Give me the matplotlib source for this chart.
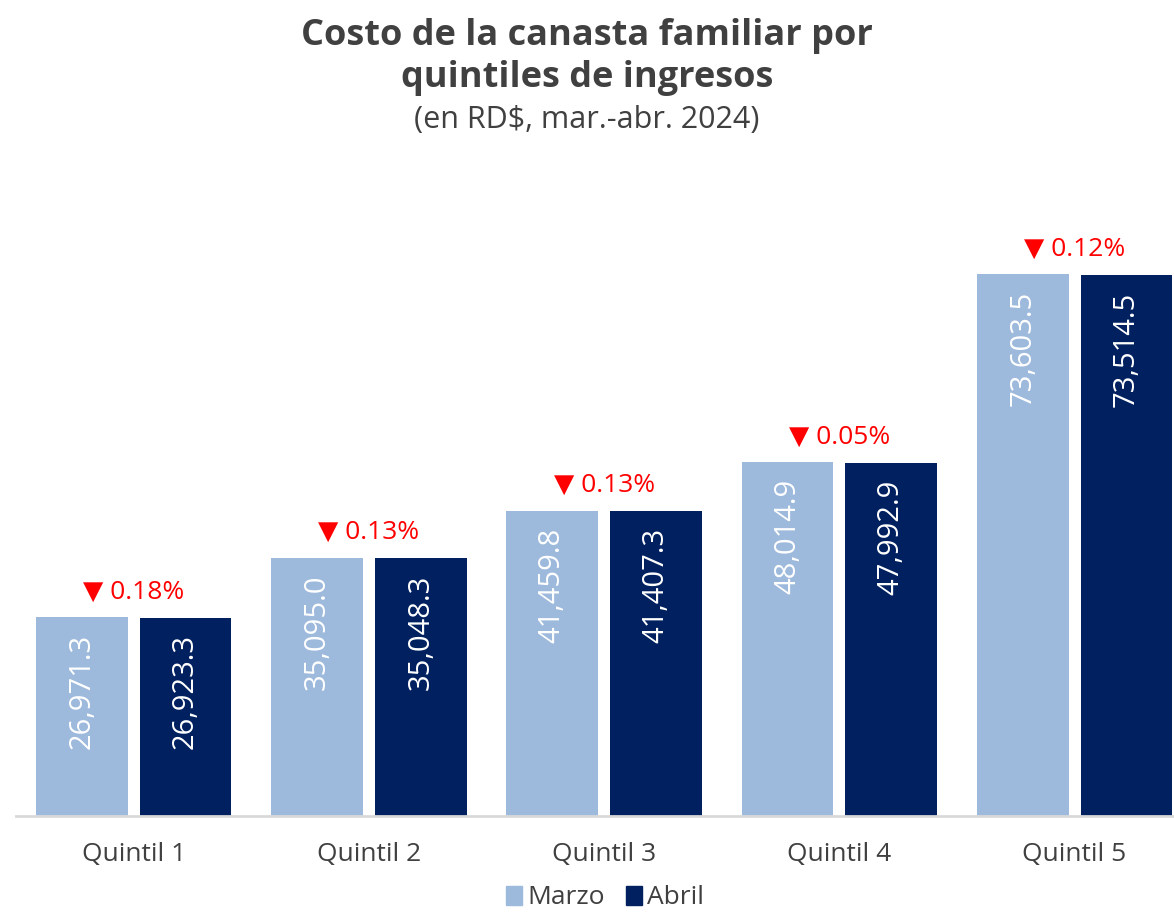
import matplotlib
matplotlib.use("Agg")
import matplotlib.pyplot as plt
from matplotlib.patches import Patch
import numpy as np

plt.rcParams['font.family'] = ['Open Sans', 'DejaVu Sans']

categories = ["Quintil 1", "Quintil 2", "Quintil 3", "Quintil 4", "Quintil 5"]
marzo = [26971.3, 35095.0, 41459.8, 48014.9, 73603.5]
abril = [26923.3, 35048.3, 41407.3, 47992.9, 73514.5]
changes = ["0.18%", "0.13%", "0.13%", "0.05%", "0.12%"]
series_names = ["Marzo", "Abril"]

c_light = "#9DB9DC"
c_dark = "#00205F"
c_text = "#404040"

W, H = 1174, 916
fig = plt.figure(figsize=(W / 100, H / 100), dpi=100)
left = 16 / W
bottom = (H - 816) / H
top_px = 200
ax = fig.add_axes([left, bottom, 5 * 235.25 / W, (816 - top_px) / H])

x = np.arange(len(categories))
bw = 0.39
off = 0.221
b1 = ax.bar(x - off, marzo, bw, color=c_light, zorder=2)
b2 = ax.bar(x + off, abril, bw, color=c_dark, zorder=2)

ymax = (816 - top_px) / 542 * 73603.5
ax.set_ylim(0, ymax)
ax.set_xlim(-0.5, 4.5)

for bars, vals in ((b1, marzo), (b2, abril)):
    for r, v in zip(bars, vals):
        ax.annotate(f"{v:,.1f}", (r.get_x() + r.get_width() / 2, v),
                    xytext=(0, -12), textcoords="offset points",
                    rotation=90, ha="center", va="top", color="white",
                    fontsize=21)

for i, (m, a, ch) in enumerate(zip(marzo, abril, changes)):
    ax.annotate("\u25BC " + ch, (i, max(m, a)), xytext=(0, 9),
                textcoords="offset points", ha="center", va="bottom",
                color="#FF0000", fontsize=19)

ax.set_xticks(x)
ax.set_xticklabels(categories, fontsize=19, color=c_text)
ax.tick_params(axis="x", length=0, pad=19)
ax.set_yticks([])
for s in ("top", "right", "left"):
    ax.spines[s].set_visible(False)
ax.spines["bottom"].set_color("#D9D9D9")
ax.spines["bottom"].set_linewidth(2)

fig.text(0.5, 1 - 36 / H, "Costo de la canasta familiar por", ha="center",
         va="center", fontsize=26, fontweight="bold", color=c_text)
fig.text(0.5, 1 - 78 / H, "quintiles de ingresos", ha="center",
         va="center", fontsize=26, fontweight="bold", color=c_text)
fig.text(0.5, 1 - 120 / H, "(en RD$, mar.-abr. 2024)", ha="center",
         va="center", fontsize=22, color=c_text)

handles = [Patch(color=c_light), Patch(color=c_dark)]
fig.legend(handles, series_names, loc="center", bbox_to_anchor=(605 / W, 1 - 898 / H),
           ncol=2, frameon=False, fontsize=19, handlelength=0.6, handleheight=0.7,
           handletextpad=0.2, columnspacing=0.8, labelcolor=c_text,
           borderpad=0.1)

fig.savefig("out.png", dpi=100)
